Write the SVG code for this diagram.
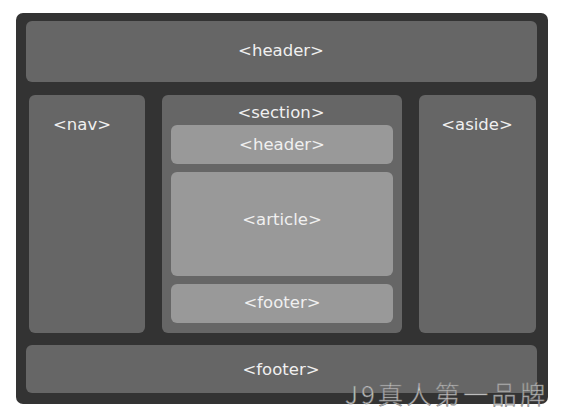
<svg xmlns="http://www.w3.org/2000/svg" width="564" height="419" viewBox="0 0 564 419">
<style>
.outer{fill:#333}
.box{fill:#666}
.inner{fill:#999}
.lbl{font-family:"DejaVu Sans",Verdana,sans-serif;font-size:16.5px;fill:#f0f0f0;text-anchor:middle}
.wm{font-family:"Noto Sans CJK SC","DejaVu Sans",sans-serif;font-size:25px;fill:#d8d8d8;stroke:#777;stroke-width:0.6;font-weight:300}
</style>
<rect width="564" height="419" fill="#fff"/>
<rect class="outer" x="16" y="13" width="532" height="391" rx="7"/>
<g id="header"><rect class="box" x="26" y="21" width="511" height="61" rx="6"/><text class="lbl" x="281" y="56">&lt;header&gt;</text></g>
<g id="nav"><rect class="box" x="29" y="95" width="116" height="238" rx="6"/><text class="lbl" x="82" y="130">&lt;nav&gt;</text></g>
<g id="section"><rect class="box" x="162" y="95" width="240" height="238" rx="6"/><text class="lbl" x="281" y="118">&lt;section&gt;</text></g>
<g id="section-header"><rect class="inner" x="171" y="125" width="222" height="39" rx="6"/><text class="lbl" x="282" y="150">&lt;header&gt;</text></g>
<g id="article"><rect class="inner" x="171" y="172" width="222" height="104" rx="6"/><text class="lbl" x="282" y="225">&lt;article&gt;</text></g>
<g id="section-footer"><rect class="inner" x="171" y="284" width="222" height="39" rx="6"/><text class="lbl" x="282" y="308">&lt;footer&gt;</text></g>
<g id="aside"><rect class="box" x="419" y="95" width="117" height="238" rx="6"/><text class="lbl" x="477" y="130">&lt;aside&gt;</text></g>
<g id="footer"><rect class="box" x="26" y="345" width="511" height="48" rx="6"/><text class="lbl" x="281" y="375">&lt;footer&gt;</text></g>
<g id="connectors"></g>
<text class="wm" x="345" y="404" textLength="200" lengthAdjust="spacing">J9真人第一品牌</text>
</svg>
